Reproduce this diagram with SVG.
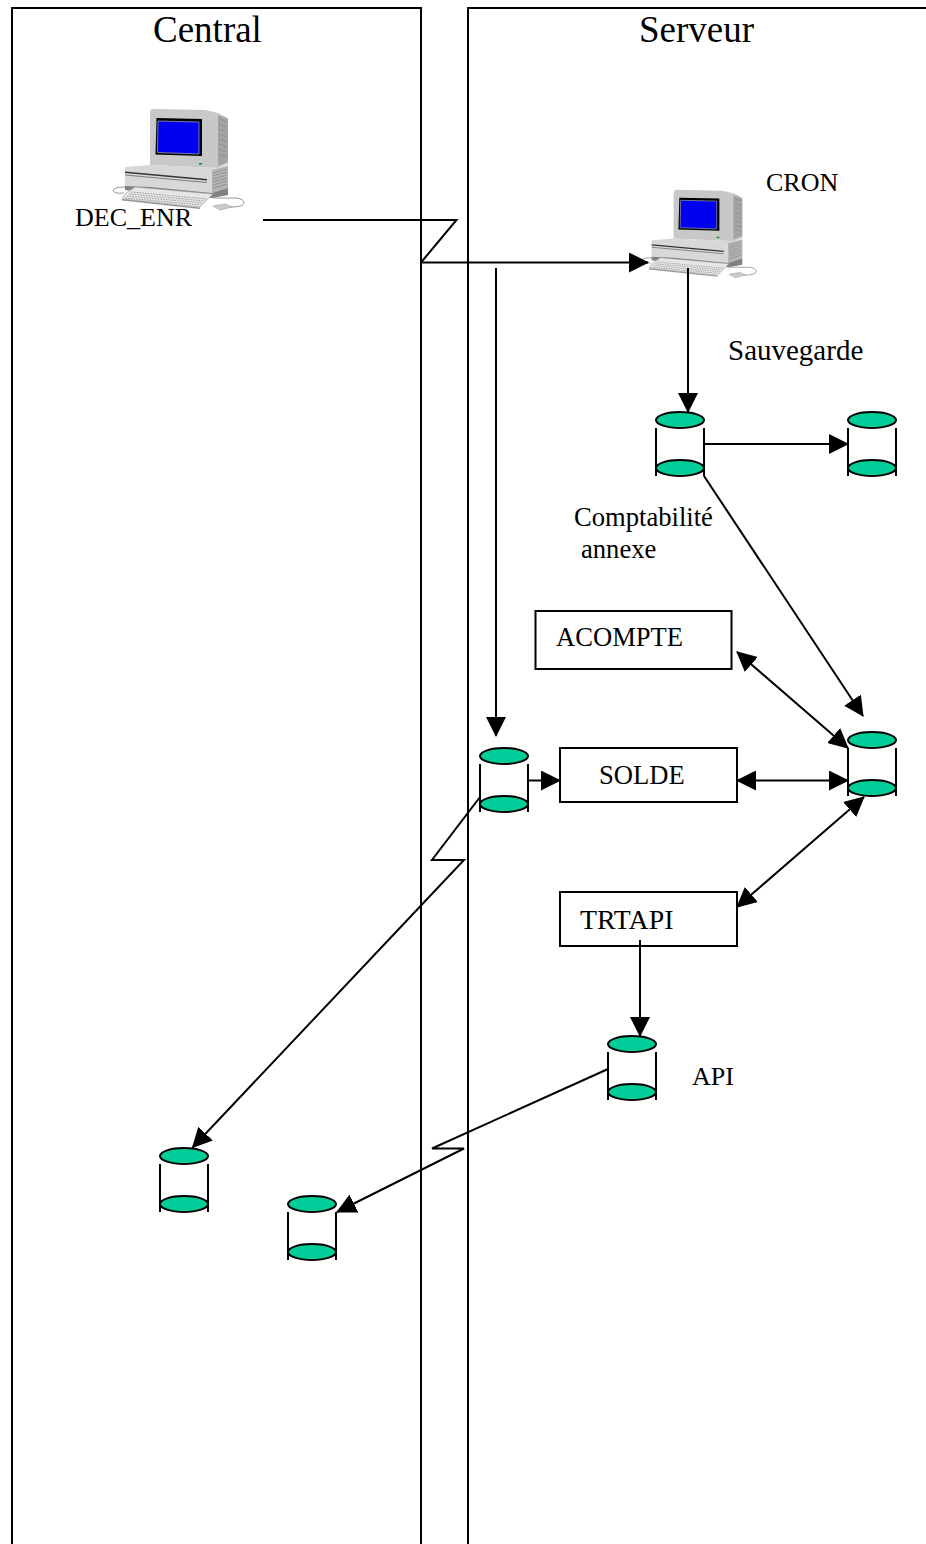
<svg xmlns="http://www.w3.org/2000/svg" width="926" height="1544" viewBox="0 0 926 1544">
<style>
.l{fill:none;stroke:#000;stroke-width:2}
.b{fill:#fff;stroke:#000;stroke-width:2}
.t{font-family:"Liberation Serif","Times New Roman",serif;fill:#000}
.s{font-size:26.6px}
.h{font-size:37px}
.e{fill:#00cc99;stroke:#000;stroke-width:2}
.k{fill:none;stroke:#888;stroke-width:.8;stroke-dasharray:1.6 1.2}
.v{fill:none;stroke:#888;stroke-width:.7}
.c{fill:none;stroke:#999;stroke-width:1}
</style>
<defs>
<marker id="a" markerUnits="userSpaceOnUse" markerWidth="20" markerHeight="20" refX="19" refY="10" orient="auto-start-reverse" viewBox="0 0 20 20"><path d="M0 0L20 10L0 20z" fill="#000"/></marker>
<g id="cyl">
<ellipse class="e" cx="24" cy="8" rx="24" ry="8"/>
<ellipse class="e" cx="24" cy="56" rx="24" ry="8"/>
<path class="l" d="M0 16V64M48 16V64"/>
</g>
<g id="pc">
<path d="M150 112Q151 108 155 109L205 110L218 113L228 118V164L218 168L150 165z" fill="#c8c8c8"/>
<path d="M218 115L228 119V162L218 166z" fill="#a4a4a4"/>
<path d="M219 119L227 122M219 124L227 127M219 129L227 132M219 134L227 137M219 139L227 142M219 144L227 147M219 149L227 152M219 154L227 157" class="v"/>
<path d="M156.500 118L202 119V156L155.500 154.500z" fill="#000"/>
<path d="M158 121L199 122V154L157.500 152.500z" fill="#0000f0" stroke="#9a9ab0" stroke-width=".8"/>
<path d="M125 167L150 165L218 168L228 165V195L212 198L125 190z" fill="#d8d8d8"/>
<path d="M125 171.500L207 179V180.500L125 173z" fill="#333"/>
<path d="M125 175L207 182.500" fill="none" stroke="#555" stroke-width=".7"/>
<path d="M212 170L228 166V188L212 193z" fill="#b4b4b4"/>
<path d="M213 173L227 169M213 176L227 172M213 179L227 175M213 182L227 178M213 185L227 181M213 188L227 184" class="v"/>
<path d="M125 186L150 187L212 193L228 188V195L212 198L125 190z" fill="#808080"/>
<path d="M126 193L135 187L213 194L200 207L122 199z" fill="#e6e6e6" stroke="#999" stroke-width=".6"/>
<path d="M131 192L207 199M129 194L205 201M127 196L203 203M125 198L201 205" class="k"/>
<path d="M122 199L200 207.500V209L122 200.500z" fill="#999"/>
<path d="M125 187Q113 187 113 191Q115 194 124 193M213 198H236Q244 199 244 203Q243 207 231 207" class="c"/>
<path d="M213 206L225 204L232 207L220 210z" fill="#ccc" stroke="#999" stroke-width=".6"/>
<rect x="199" y="163" width="3" height="1.500" fill="#090"/>
</g>
</defs>
<rect width="926" height="1544" fill="#fff"/>
<g id="central">
<path class="l" d="M12 1544V8H421V1544"/>
<text class="t h" x="153" y="42">Central</text>
</g>
<g id="serveur">
<path class="l" d="M468 1544V8H926"/>
<text class="t h" x="639" y="42">Serveur</text>
</g>
<g id="pc1"><use href="#pc"/><text class="t" style="font-size:26px" x="75" y="226">DEC_ENR</text></g>
<g id="pc2"><use href="#pc" transform="translate(541.6 95) scale(.88 .87)"/><text class="t" style="font-size:26px" x="766" y="191">CRON</text></g>
<g id="connectors">
<path class="l" d="M263 220H456.500L421 262.500"/>
<path class="l" d="M421 262.500H648" marker-end="url(#a)"/>
<path class="l" d="M496 268V736" marker-end="url(#a)"/>
<path class="l" d="M688 268V412" marker-end="url(#a)"/>
<path class="l" d="M704 444H848" marker-end="url(#a)"/>
<path class="l" d="M704 476L863 716" marker-end="url(#a)"/>
<path class="l" d="M737 652L848 748" marker-start="url(#a)" marker-end="url(#a)"/>
<path class="l" d="M528 780.500H560" marker-end="url(#a)"/>
<path class="l" d="M737 780.500H848" marker-start="url(#a)" marker-end="url(#a)"/>
<path class="l" d="M737 907L864 797" marker-start="url(#a)" marker-end="url(#a)"/>
<path class="l" d="M640 940V1036" marker-end="url(#a)"/>
<path class="l" d="M480 797L432 860H464L192.500 1147.500" marker-end="url(#a)"/>
<path class="l" d="M608 1069L432 1148.500H464L337 1212" marker-end="url(#a)"/>
</g>
<g id="db-compta"><use href="#cyl" x="656" y="412"/><text class="t s" x="574" y="526">Comptabilité</text><text class="t s" x="581" y="558">annexe</text></g>
<g id="db-save"><use href="#cyl" x="848" y="412"/></g>
<text id="sauvegarde" class="t" style="font-size:29px" x="728" y="360">Sauvegarde</text>
<g id="acompte"><rect class="b" x="535.500" y="611" width="196" height="58"/><text class="t s" x="556" y="646">ACOMPTE</text></g>
<g id="solde"><rect class="b" x="560" y="748" width="177" height="54"/><text class="t s" x="599" y="784">SOLDE</text></g>
<g id="trtapi"><rect class="b" x="560" y="892" width="177" height="54"/><path class="l" d="M640 940V946"/><text class="t" style="font-size:27.800px" x="580" y="929">TRTAPI</text></g>
<g id="db-right"><use href="#cyl" x="848" y="732"/></g>
<g id="db-mid"><use href="#cyl" x="480" y="748"/></g>
<g id="db-api"><use href="#cyl" x="608" y="1036"/><text class="t" style="font-size:26px" x="692" y="1085">API</text></g>
<g id="db-c1"><use href="#cyl" x="160" y="1148"/></g>
<g id="db-c2"><use href="#cyl" x="288" y="1196"/></g>
</svg>
